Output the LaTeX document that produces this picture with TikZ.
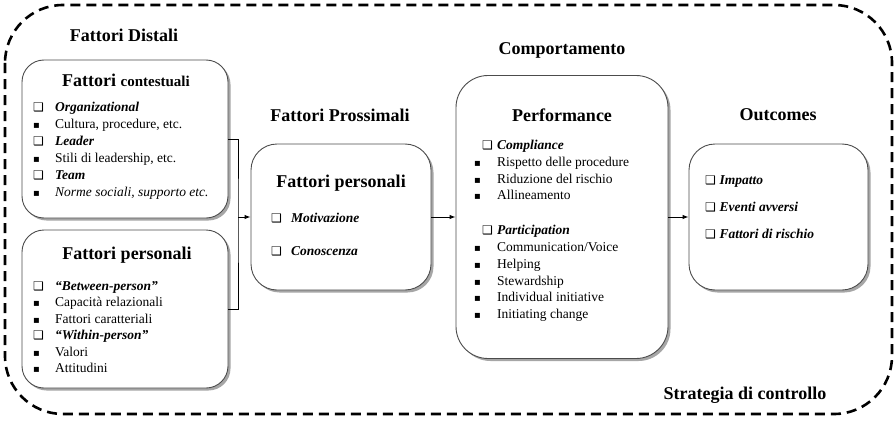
\documentclass[tikz,border=0pt]{standalone}
\usepackage{fontspec}
\setmainfont{Liberation Serif}
\newfontfamily\symfont{DejaVu Sans}
\usetikzlibrary{shadows,arrows.meta}

\newcommand\chkbox[1][22pt]{\makebox[#1][l]{\fontsize{12}{12}\symfont ❑}}
\newcommand\sqbul[1][22pt]{\makebox[#1][l]{\fontsize{10}{10}\symfont ▪}}
\newcommand\itemhead[1]{\textbf{\textit{#1}}}

\tikzset{
  box/.style={draw=black!70, line width=0.9pt, fill=white, rounded corners=22pt,
    drop shadow={shadow xshift=2.5pt, shadow yshift=-2.5pt, opacity=0.35, fill=black}},
  head/.style={font=\fontsize{18}{20}\selectfont\bfseries},
  items/.style={anchor=north west, align=left, inner sep=0pt, font=\fontsize{13.5}{17}\selectfont},
  link/.style={line width=1pt},
  arr/.style={-{Latex[length=6pt,width=4.5pt]}}
}

\begin{document}
\begin{tikzpicture}[x=1pt,y=-1pt]
  \useasboundingbox (0,0) rectangle (896,420);
  \draw[line width=2.6pt, dash pattern=on 10pt off 6pt, rounded corners=58pt] (5,5) rectangle (892,414);

  \node[head] (tdist) at (124,35) {Fattori Distali};
  \node[head] (tprox) at (340,115) {Fattori Prossimali};
  \node[head] (tcomp) at (562,50) {Comportamento};
  \node[head] (tout) at (778,115) {Outcomes};
  \node[head] (tstrat) at (745,395) {Strategia di controllo};

  \node[box, minimum width=206pt, minimum height=158pt] (ctx) at (125,139) {};
  \node[box, minimum width=206pt, minimum height=158pt] (pers) at (125,309) {};
  \node[box, rounded corners=26pt, minimum width=180pt, minimum height=146pt] (prox) at (341,217) {};
  \node[box, rounded corners=32pt, minimum width=212pt, minimum height=283pt] (perf) at (562,217) {};
  \node[box, rounded corners=26pt, minimum width=179pt, minimum height=146pt] (outc) at (778.5,217) {};

  \node[head] (hctx) at (126,80) {Fattori {\fontsize{15}{17}\selectfont contestuali}};
  \node[head] (hpers) at (127,255) {Fattori personali};
  \node[head] (hprox) at (341,183) {Fattori personali};
  \node[head] (hperf) at (562,115) {Performance};

  \node[items] (lctx) at (33,102) {\chkbox\itemhead{Organizational}\\
    \sqbul Cultura, procedure, etc.\\
    \chkbox\itemhead{Leader}\\
    \sqbul Stili di leadership, etc.\\
    \chkbox\itemhead{Team}\\
    \sqbul\textit{Norme sociali, supporto etc.}};
  \node[items, font=\fontsize{13.5}{16.5}\selectfont] (lpers) at (33,281) {\chkbox\itemhead{“Between-person”}\\
    \sqbul Capacità relazionali\\
    \sqbul Fattori caratteriali\\
    \chkbox\itemhead{“Within-person”}\\
    \sqbul Valori\\
    \sqbul Attitudini};
  \node[items] (lprox) at (271,213) {\chkbox[20pt]\itemhead{Motivazione}\\[16pt]
    \chkbox[20pt]\itemhead{Conoscenza}};
  \node[items, font=\fontsize{13.5}{16.8}\selectfont] (lperf) at (474,140) {\hspace*{8pt}\chkbox[15pt]\itemhead{Compliance}\\
    \sqbul[23pt]Rispetto delle procedure\\
    \sqbul[23pt]Riduzione del rischio\\
    \sqbul[23pt]Allineamento\\[18pt]
    \hspace*{8pt}\chkbox[15pt]\itemhead{Participation}\\
    \sqbul[23pt]Communication/Voice\\
    \sqbul[23pt]Helping\\
    \sqbul[23pt]Stewardship\\
    \sqbul[23pt]Individual initiative\\
    \sqbul[23pt]Initiating change};
  \node[items] (lout) at (705,175) {\chkbox[14.5pt]\itemhead{Impatto}\\[10pt]
    \chkbox[14.5pt]\itemhead{Eventi avversi}\\[10pt]
    \chkbox[14.5pt]\itemhead{Fattori di rischio}};

  \coordinate (jn) at (238,217);
  \draw[link] (ctx.east) -| (jn) |- (pers.east);
  \draw[link, arr] (jn) -- (prox.west);
  \draw[link, arr] (prox.east) -- (perf.west);
  \draw[link, arr] (perf.east) -- (outc.west);
\end{tikzpicture}
\end{document}
